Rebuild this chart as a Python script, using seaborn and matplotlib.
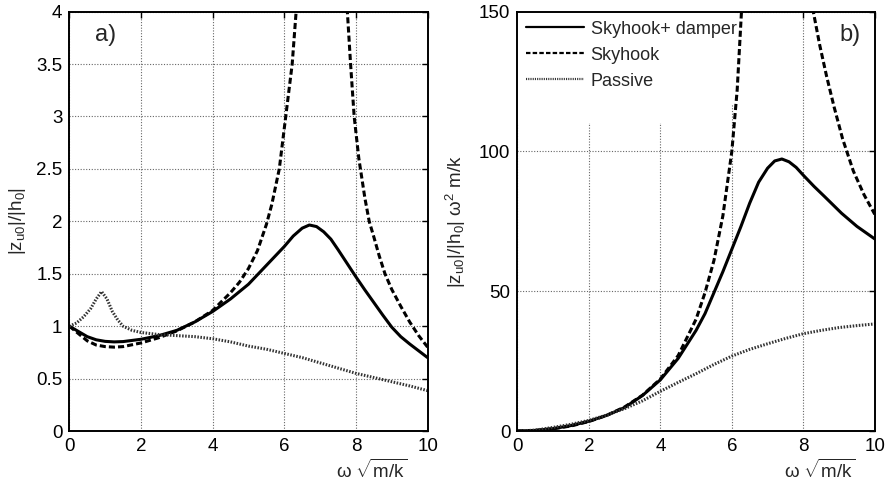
import numpy as np
import pandas as pd
import matplotlib
matplotlib.use("Agg")
import matplotlib.pyplot as plt
import seaborn as sns
from matplotlib.patches import Rectangle
from matplotlib.ticker import FuncFormatter

# ---------------- data ----------------
# Panel a) |z_u0|/|h_0|
x_a_sd = [0, 0.25, 0.5, 0.75, 1, 1.25, 1.5, 2, 2.5, 3, 3.5, 4, 4.5, 5, 5.25, 5.5, 5.75,
          6, 6.25, 6.5, 6.7, 6.9, 7.1, 7.3, 7.5, 7.75, 8, 8.25, 8.5, 8.75, 9, 9.25, 9.5,
          9.75, 10]
y_a_sd = [1.0, 0.95, 0.90, 0.87, 0.855, 0.85, 0.853, 0.875, 0.91, 0.96, 1.04, 1.14, 1.26,
          1.40, 1.49, 1.58, 1.67, 1.76, 1.86, 1.935, 1.965, 1.95, 1.90, 1.83, 1.73, 1.60,
          1.47, 1.345, 1.225, 1.105, 0.99, 0.90, 0.83, 0.765, 0.70]

x_a_sk = [0, 0.25, 0.5, 0.75, 1, 1.25, 1.5, 2, 2.5, 3, 3.5, 4, 4.5, 4.75, 5, 5.25, 5.5,
          5.65, 5.86, 6.04, 6.22, 6.33, 6.6, 6.85, 7.05, 7.3, 7.55, 7.76, 7.85, 7.95, 8.08,
          8.25, 8.37, 8.5, 8.65, 8.81, 9.0, 9.25, 9.5, 9.75, 10]
y_a_sk = [1.0, 0.93, 0.86, 0.82, 0.805, 0.80, 0.805, 0.84, 0.89, 0.955, 1.04, 1.15, 1.32,
          1.42, 1.55, 1.72, 1.97, 2.16, 2.5, 3.0, 3.5, 4.0, 6.0, 12.0, 40.0, 10.0, 5.0,
          4.0, 3.5, 3.0, 2.6, 2.22, 2.0, 1.85, 1.67, 1.5, 1.35, 1.19, 1.04, 0.91, 0.80]

x_a_p = [0, 0.2, 0.4, 0.6, 0.75, 0.9, 1.05, 1.2, 1.35, 1.5, 1.75, 2, 2.5, 3, 3.5, 4, 4.5,
         5, 5.5, 6, 6.5, 7, 7.5, 8, 8.5, 9, 9.5, 10]
y_a_p = [1.0, 1.03, 1.09, 1.17, 1.26, 1.33, 1.26, 1.14, 1.06, 1.0, 0.96, 0.94, 0.92, 0.91,
         0.90, 0.88, 0.85, 0.81, 0.78, 0.74, 0.70, 0.65, 0.60, 0.55, 0.51, 0.47, 0.43, 0.385]

# Panel b) |z_u0|/|h_0| w^2 m/k
x_b_sd = [0, 0.5, 1, 1.5, 2, 2.5, 3, 3.5, 4, 4.5, 5, 5.25, 5.5, 5.75, 6, 6.25, 6.5, 6.75,
          7, 7.2, 7.4, 7.6, 7.8, 8, 8.3, 8.6, 9.07, 9.5, 10]
y_b_sd = [0, 0.22, 0.85, 1.95, 3.5, 5.6, 8.4, 12.7, 18.3, 26, 36, 42, 49.5, 57, 65, 73,
          81.5, 89, 94, 96.6, 97.3, 96.3, 94.3, 91.5, 87.5, 83.8, 77.9, 73.2, 68.7]

x_b_sk = [0, 0.5, 1, 1.5, 2, 2.5, 3, 3.5, 4, 4.5, 5, 5.25, 5.5, 5.75, 6, 6.15, 6.27, 6.5,
          6.8, 7.0, 7.3, 7.6, 8.0, 8.28, 8.46, 8.65, 8.86, 9.1, 9.4, 9.7, 10]
y_b_sk = [0, 0.2, 0.8, 1.8, 3.4, 5.6, 8.6, 12.8, 18.6, 27, 40, 49.5, 61, 77, 100, 122, 150,
          230, 500, 1500, 600, 270, 175, 150, 138, 127, 116, 104.5, 93, 84.5, 77.5]

x_b_p = [0, 0.5, 1, 1.5, 2, 2.5, 3, 3.5, 4, 4.5, 5, 5.5, 6, 6.5, 7, 7.5, 8, 8.5, 9, 9.5, 10]
y_b_p = [0, 0.3, 1.3, 2.4, 3.8, 5.7, 8.0, 10.8, 14.2, 17.4, 20.5, 23.8, 26.8, 29.2, 31.2,
         33.1, 34.8, 36.0, 37.0, 37.7, 38.3]

labels = ["Skyhook+ damper", "Skyhook", "Passive"]
xticks = [0, 2, 4, 6, 8, 10]
yticks_a = [0, 0.5, 1, 1.5, 2, 2.5, 3, 3.5, 4]
yticks_b = [0, 50, 100, 150]

# ---------------- style ----------------
sns.set_style("white")
plt.rcParams["font.family"] = ["Liberation Sans", "DejaVu Sans"]
plt.rcParams["mathtext.fontset"] = "custom"
plt.rcParams["mathtext.rm"] = "Liberation Sans"
plt.rcParams["mathtext.it"] = "Liberation Sans"
plt.rcParams["mathtext.default"] = "regular"

FS = 13.5
LW = 2.2
styles = [
    dict(color="black", linestyle="-", linewidth=LW),
    dict(color="black", linestyle=(0, (2, 1)), linewidth=LW),
    dict(color="#333333", linestyle=(0, (0.5, 0.5)), linewidth=LW),
]

fig = plt.figure(figsize=(8.89, 4.82), dpi=100)
axA = fig.add_axes([0.078, 0.1058, 0.403, 0.870])
axB = fig.add_axes([0.582, 0.1058, 0.402, 0.870])


def draw(ax, series, yticks, ylim):
    for (xs, ys), st, lab in zip(series, styles, labels):
        df = pd.DataFrame({"x": xs, "y": ys})
        sns.lineplot(data=df, x="x", y="y", ax=ax, label=lab, sort=False,
                     legend=False, **st)
    ax.set_xlim(0, 10)
    ax.set_ylim(*ylim)
    ax.set_xticks(xticks)
    ax.set_yticks(yticks)
    ax.yaxis.set_major_formatter(FuncFormatter(lambda v, p: f"{v:g}"))
    ax.set_axisbelow(True)
    ax.grid(True, linestyle=(0, (1, 1.5)), color="#666666", linewidth=0.8)
    ax.tick_params(direction="in", length=4, width=1, top=True, right=True,
                   labelsize=FS, pad=5, colors="black")
    for s in ax.spines.values():
        s.set_color("black")
        s.set_linewidth(1.4)
    ax.set_xlabel("")
    ax.text(0.945, -0.095, r"$\omega\ \sqrt{m/k}$", transform=ax.transAxes,
            ha="right", va="center", fontsize=FS)


draw(axA, [(x_a_sd, y_a_sd), (x_a_sk, y_a_sk), (x_a_p, y_a_p)], yticks_a, (0, 4))
draw(axB, [(x_b_sd, y_b_sd), (x_b_sk, y_b_sk), (x_b_p, y_b_p)], yticks_b, (0, 150))

axA.set_ylabel(r"$|z_{u0}|/|h_0|$", fontsize=FS, labelpad=6)
axB.set_ylabel(r"$|z_{u0}|/|h_0|\ \omega^2\ m/k$", fontsize=FS, labelpad=8)

axA.text(0.10, 0.945, "a)", transform=axA.transAxes, fontsize=17, ha="center", va="center")
axB.text(0.93, 0.945, "b)", transform=axB.transAxes, fontsize=17, ha="center", va="center")

# white area behind legend (hides grid as in reference)
axB.add_patch(Rectangle((0, 0.735), 0.598, 0.265, transform=axB.transAxes,
                        facecolor="white", edgecolor="none", zorder=1))
axB.add_patch(Rectangle((0.59, 0.777), 0.02, 0.223, transform=axB.transAxes,
                        facecolor="white", edgecolor="none", zorder=1))

handles = axB.get_lines()[:3]
leg = axB.legend(handles, labels, loc="upper left", frameon=False, fontsize=13,
                 handlelength=3.2, handletextpad=0.35, labelspacing=0.5,
                 borderaxespad=0.2, borderpad=0.3)
for h in leg.legend_handles:
    h.set_linewidth(1.6)

fig.savefig("out.png", dpi=100)
